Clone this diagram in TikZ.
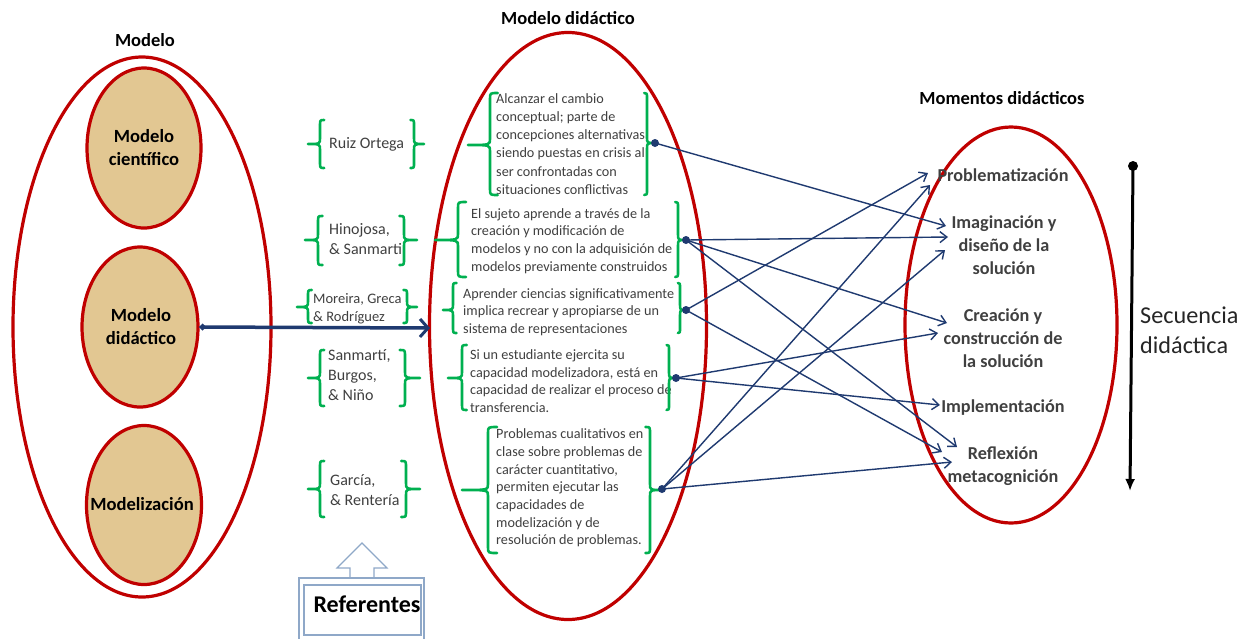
\documentclass[tikz,border=0pt]{standalone}
\usepackage{fontspec}
\setmainfont{Carlito}
\usetikzlibrary{arrows.meta,shapes.geometric}
\definecolor{redE}{HTML}{C00000}
\definecolor{navy}{HTML}{1F3A70}
\definecolor{grn}{HTML}{00B050}
\definecolor{tgray}{HTML}{404040}
\definecolor{tan}{RGB}{226,199,146}
\definecolor{refblue}{HTML}{8FA8C8}
\newcommand\Brc[5]{\draw[brc] ({#1+0.35*(#1-#2)},#3) .. controls (#1,#3) .. (#1,#3+6) -- (#1,#4-6) .. controls (#1,#4) .. (#2,#4) .. controls (#1,#4) .. (#1,#4+6) -- (#1,#5-6) .. controls (#1,#5) .. ({#1+0.35*(#1-#2)},#5);}
\tikzset{
  redell/.style={ellipse, draw=redE, line width=3.2pt, inner sep=0pt},
  tanell/.style={ellipse, draw=redE, fill=tan, line width=3.2pt, inner sep=0pt},
  brc/.style={grn, line width=2.6pt, line cap=round, line join=round},
  reftext/.style={font=\fontsize{16}{20}\selectfont, text=tgray, align=left, anchor=west, inner sep=0pt},
  boxtext/.style={font=\fontsize{14.2}{17.7}\selectfont, text=tgray, align=left, anchor=west, inner sep=0pt},
  momtext/.style={font=\bfseries\fontsize{18.2}{23}\selectfont, text=tgray, align=center, inner sep=0pt},
  titletext/.style={font=\bfseries\fontsize{18.5}{20}\selectfont, inner sep=0pt},
  elltext/.style={font=\bfseries\fontsize{18.6}{23}\selectfont, align=center, inner sep=0pt},
  conn/.style={navy, line width=1.4pt, -{Straight Barb[length=7pt,width=11pt,line width=1.4pt]}},
}
\begin{document}
\begin{tikzpicture}[x=1pt,y=-1pt]
\useasboundingbox (0,0) rectangle (1238,638);
\fill[white] (0,0) rectangle (1238,638);

% titles
\node[titletext] (tModelo) at (145,40) {Modelo};
\node[titletext] (tDid) at (568,18) {Modelo didáctico};
\node[titletext] (tMom) at (1002,98) {Momentos didácticos};

% left ellipses
\node[redell, minimum width=258pt, minimum height=540pt] (outerL) at (142,327) {};
\node[tanell, minimum width=114pt, minimum height=160pt] (ecien) at (144,148) {};
\node[tanell, minimum width=116pt, minimum height=160pt] (edid) at (140,327) {};
\node[tanell, minimum width=115pt, minimum height=159pt] (emod) at (144,505) {};
\node[elltext] (lcien) at (144,148) {Modelo\\científico};
\node[elltext] (ldid) at (141,327) {Modelo\\didáctico};
\node[elltext] (lmod) at (142,504) {Modelización};

% middle and right ellipses
\node[redell, minimum width=277pt, minimum height=587pt] (midE) at (568,326) {};
\node[redell, minimum width=212pt, minimum height=396pt] (rightE) at (1011,325) {};

% referentes labels
\node[reftext] (rRuiz) at (329,144) {Ruiz Ortega};
\node[reftext] (rHino) at (329,239) {Hinojosa,\\\& Sanmarti};
\node[reftext, font=\fontsize{14.5}{18}\selectfont] (rMore) at (313,309) {Moreira, Greca\\\& Rodríguez};
\node[reftext] (rSan) at (328,375) {Sanmartí,\\Burgos,\\\& Niño};
\node[reftext] (rGar) at (330,490) {García,\\\& Rentería};

\Brc{320}{308}{120}{144}{168}
\Brc{414}{424}{120}{144}{168}
\Brc{318}{305}{216}{240}{265}
\Brc{404}{417}{216}{240}{265}
\Brc{308}{297}{290}{307}{323}
\Brc{407}{417}{290}{307}{323}
\Brc{320}{308}{350}{378}{406}
\Brc{405}{420}{350}{378}{406}
\Brc{320}{308}{461}{489}{517}
\Brc{406}{420}{461}{489}{517}

% middle boxes
\node[boxtext, font=\fontsize{14.2}{18.2}\selectfont] (b1) at (496,144) {Alcanzar el cambio\\conceptual; parte de\\concepciones alternativas,\\siendo puestas en crisis al\\ser confrontadas con\\situaciones conflictivas};
\node[boxtext] (b2) at (471,241) {El sujeto aprende a través de la\\creación y modificación de\\modelos y no con la adquisición de\\modelos previamente construidos};
\node[boxtext] (b3) at (463,312) {Aprender ciencias significativamente\\implica recrear y apropiarse de un\\sistema de representaciones};
\node[boxtext] (b4) at (470,381) {Si un estudiante ejercita su\\capacidad modelizadora, está en\\capacidad de realizar el proceso de\\transferencia.};
\node[boxtext] (b5) at (496,488) {Problemas cualitativos en\\clase sobre problemas de\\carácter cuantitativo,\\permiten ejecutar las\\capacidades de\\modelización y de\\resolución de problemas.};

\Brc{490}{468}{93}{145}{195}
\Brc{647}{655}{93}{143}{195}
\Brc{458}{435}{202}{240}{277}
\Brc{678}{686}{202}{240}{277}
\Brc{453}{443}{283}{310}{333}
\Brc{680}{686}{283}{310}{333}
\Brc{462}{448}{345}{378}{410}
\Brc{669}{676}{345}{378}{410}
\Brc{488}{462}{427}{490}{553}
\Brc{650}{663}{427}{490}{553}

% momentos
\node[momtext] (mProb) at (1003,175) {Problematización};
\node[momtext] (mImag) at (1004,245) {Imaginación y\\diseño de la\\solución};
\node[momtext] (mCrea) at (1003,338) {Creación y\\construcción de\\la solución};
\node[momtext] (mImpl) at (1003,408) {Implementación};
\node[momtext] (mRefl) at (1003,466) {Reflexión\\metacognición};

% secuencia
\node[font=\fontsize{24.2}{30}\selectfont, text=black!85, align=left, anchor=west, inner sep=0pt] (secu) at (1140,330) {Secuencia\\didáctica};
\coordinate (sqtop) at (1133,166);
\coordinate (sqbot) at (1130,491);
\fill[black] (sqtop) circle (5pt);
\draw[black, line width=3pt, -{Latex[length=12pt,width=10pt]}] (sqtop) -- (sqbot);

% big arrow
\coordinate (bigtip) at (430,328);
\draw[navy, line width=3.5pt, {Circle[length=6pt]}-{Straight Barb[length=8pt,width=18pt,line width=3pt]}] (edid.east) -- (bigtip);

% sources
\coordinate (s1) at (655,143);
\coordinate (s2) at (686,240);
\coordinate (s3) at (686,310);
\coordinate (s4) at (676,378);
\coordinate (s5) at (662,489);
% targets
\coordinate (tP1) at (928,173);
\coordinate (tP2) at (930,185);
\coordinate (tI1) at (946,226);
\coordinate (tI2) at (948,237);
\coordinate (tI3) at (945,250);
\coordinate (tC1) at (947,323);
\coordinate (tC2) at (938,333);
\coordinate (tIm) at (940,405);
\coordinate (tR1) at (957,447);
\coordinate (tR2) at (942,452);
\coordinate (tR3) at (952,462);

\draw[conn] (s1) -- (tI1);
\draw[conn] (s2) -- (tI2);
\draw[conn] (s2) -- (tC1);
\draw[conn] (s2) -- (tR1);
\draw[conn] (s3) -- (tP1);
\draw[conn] (s3) -- (tR2);
\draw[conn] (s4) -- (tC2);
\draw[conn] (s4) -- (tIm);
\draw[conn] (s5) -- (tP2);
\draw[conn] (s5) -- (tI3);
\draw[conn] (s5) -- (tR3);
\foreach \s in {s1,s2,s3,s4,s5} \fill[navy] (\s) circle (4pt);

% referentes
\draw[refblue, line width=1.2pt, fill=white] (362,543) -- (387,568) -- (374,568) -- (374,578) -- (350,578) -- (350,568) -- (337,568) -- cycle;
\draw[refblue, line width=1.2pt] (299,641) -- (299,578) -- (424,578) -- (424,641);
\node[draw=refblue, line width=1.2pt, minimum width=117pt, minimum height=50pt, inner sep=0pt] (refbox) at (362.5,610) {};
\node[font=\bfseries\fontsize{24}{26}\selectfont, inner sep=0pt] (reftxt) at (367,604) {Referentes};
\end{tikzpicture}
\end{document}
